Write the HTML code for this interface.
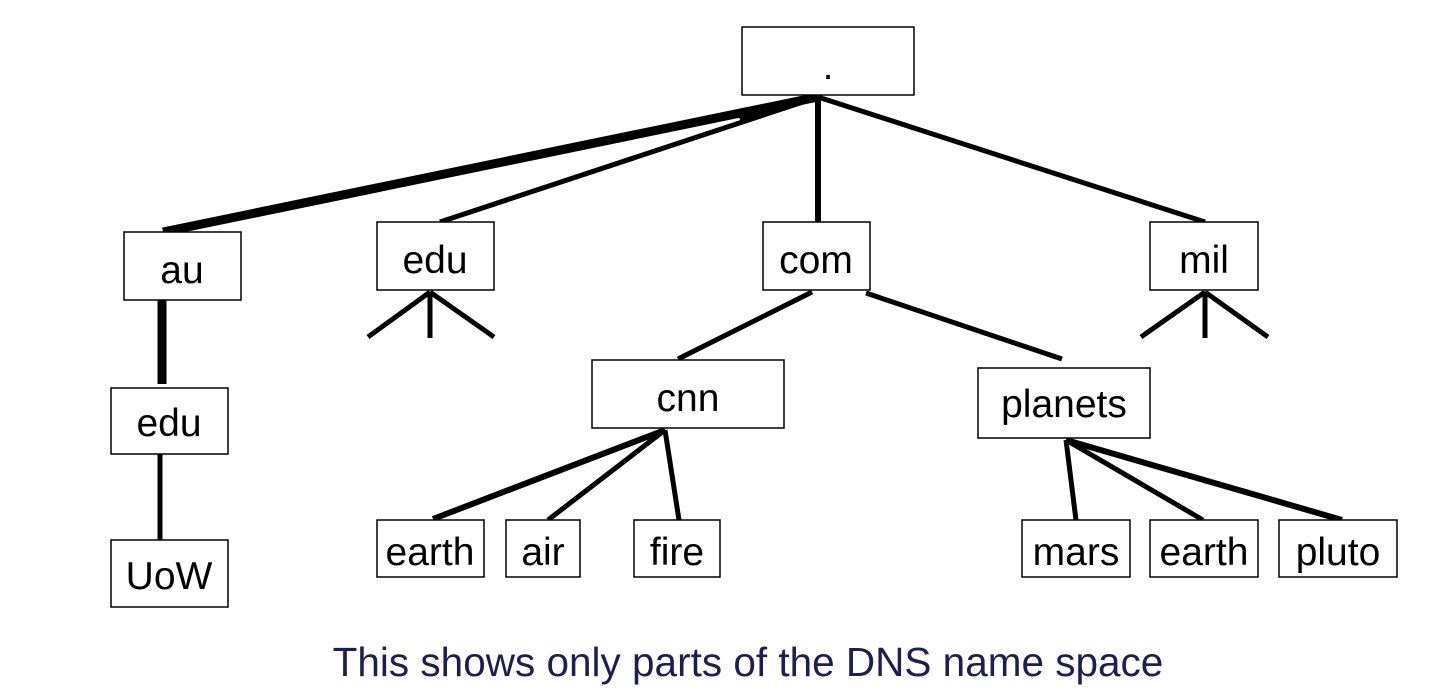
<!DOCTYPE html>
<html><head><meta charset="utf-8"><style>
html,body{margin:0;padding:0;background:#fff;}
svg{display:block;}
text{font-family:"Liberation Sans",sans-serif;font-size:39px;fill:#000;}
</style></head><body>
<svg width="1436" height="700" viewBox="0 0 1436 700" xmlns="http://www.w3.org/2000/svg">
<g stroke="#000" stroke-linecap="butt" fill="none">
<line x1="818" y1="97" x2="163" y2="232" stroke-width="9"/>
<line x1="818" y1="97" x2="740" y2="120" stroke-width="6"/>
<line x1="818" y1="97" x2="440" y2="222" stroke-width="5"/>
<line x1="818" y1="97" x2="818" y2="222" stroke-width="6"/>
<line x1="818" y1="97" x2="1205" y2="222" stroke-width="5"/>
<line x1="162" y1="300" x2="162" y2="384" stroke-width="9"/>
<line x1="160" y1="454" x2="160" y2="540" stroke-width="5"/>
<line x1="430" y1="292" x2="368" y2="337" stroke-width="5"/>
<line x1="430" y1="292" x2="430" y2="338" stroke-width="5"/>
<line x1="430" y1="292" x2="494" y2="337" stroke-width="5"/>
<line x1="1205" y1="292" x2="1141" y2="337" stroke-width="5"/>
<line x1="1205" y1="292" x2="1205" y2="338" stroke-width="5"/>
<line x1="1205" y1="292" x2="1268" y2="337" stroke-width="5"/>
<line x1="812" y1="292" x2="678" y2="359" stroke-width="5"/>
<line x1="866" y1="293" x2="1062" y2="359" stroke-width="5"/>
<line x1="665" y1="430" x2="433" y2="519" stroke-width="6"/>
<line x1="665" y1="430" x2="548" y2="520" stroke-width="5"/>
<line x1="665" y1="430" x2="679" y2="520" stroke-width="5"/>
<line x1="1066" y1="440" x2="1076" y2="520" stroke-width="5"/>
<line x1="1066" y1="440" x2="1203" y2="520" stroke-width="5"/>
<line x1="1066" y1="440" x2="1342" y2="520" stroke-width="6"/>
</g>
<g stroke="#000" stroke-width="1.5" fill="#fff">
<rect x="742" y="27" width="172" height="68"/>
<rect x="124" y="232" width="117" height="68"/>
<rect x="377" y="222" width="117" height="68"/>
<rect x="763" y="222" width="107" height="68"/>
<rect x="1150" y="222" width="108" height="68"/>
<rect x="111" y="388" width="117" height="66"/>
<rect x="111" y="540" width="117" height="67"/>
<rect x="592" y="360" width="192" height="68"/>
<rect x="978" y="368" width="172" height="70"/>
<rect x="377" y="520" width="107" height="57"/>
<rect x="506" y="520" width="74" height="57"/>
<rect x="634" y="520" width="86" height="57"/>
<rect x="1022" y="520" width="108" height="57"/>
<rect x="1150" y="520" width="108" height="57"/>
<rect x="1279" y="520" width="118" height="57"/>
</g>
<g text-anchor="middle">
<text x="828" y="79">.</text>
<text x="182" y="283">au</text>
<text x="435" y="273">edu</text>
<text x="816" y="273">com</text>
<text x="1204" y="273">mil</text>
<text x="169" y="436">edu</text>
<text x="169" y="589">UoW</text>
<text x="688" y="411">cnn</text>
<text x="1064" y="417">planets</text>
<text x="430" y="565">earth</text>
<text x="543" y="565">air</text>
<text x="677" y="565">fire</text>
<text x="1076" y="565">mars</text>
<text x="1204" y="565">earth</text>
<text x="1338" y="565">pluto</text>
<text x="748" y="676" style="fill:#1f1f4f;font-size:40.5px">This shows only parts of the DNS name space</text>
</g>
</svg>
</body></html>
